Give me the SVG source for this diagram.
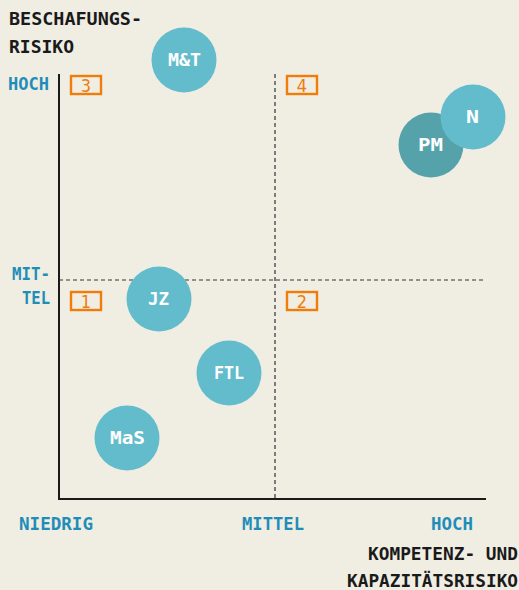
<svg xmlns="http://www.w3.org/2000/svg" width="519" height="590" viewBox="0 0 519 590">
<style>
.lbl{font-family:"DejaVu Sans Mono","Liberation Mono",monospace;font-weight:bold;font-size:18px}
.blk{fill:#1a1a1a}
.blu{fill:#1f8db8}
.box{fill:none;stroke:#f07d0a;stroke-width:2.4}
.num{font-family:"DejaVu Sans Condensed","DejaVu Sans",sans-serif;font-size:18px;fill:#f07d0a;text-anchor:middle}
.c{fill:#62bccc}
.c2{fill:#55a2aa}
.ct{font-family:"DejaVu Sans Mono",monospace;font-weight:bold;font-size:18px;fill:#ffffff}
.ax{stroke:#1a1a1a;stroke-width:2;fill:none}
.dash{stroke:#333;stroke-width:1.2;stroke-dasharray:4 3;fill:none}
</style>
<rect width="519" height="590" fill="#f0ede3"/>
<g id="labels">
<text class="lbl blk" x="9" y="25" textLength="133" lengthAdjust="spacingAndGlyphs">BESCHAFUNGS-</text>
<text class="lbl blk" x="9" y="53" textLength="65" lengthAdjust="spacingAndGlyphs">RISIKO</text>
<text class="lbl blu" x="8" y="90" textLength="41" lengthAdjust="spacingAndGlyphs">HOCH</text>
<text class="lbl blu" x="12" y="280" textLength="38" lengthAdjust="spacingAndGlyphs">MIT-</text>
<text class="lbl blu" x="22" y="304" textLength="28" lengthAdjust="spacingAndGlyphs">TEL</text>
<text class="lbl blu" x="19" y="530" textLength="74" lengthAdjust="spacingAndGlyphs">NIEDRIG</text>
<text class="lbl blu" x="242" y="530" textLength="62" lengthAdjust="spacingAndGlyphs">MITTEL</text>
<text class="lbl blu" x="431" y="530" textLength="42" lengthAdjust="spacingAndGlyphs">HOCH</text>
<text class="lbl blk" x="368" y="560" textLength="150" lengthAdjust="spacingAndGlyphs">KOMPETENZ- UND</text>
<text class="lbl blk" x="347" y="587" textLength="171" lengthAdjust="spacingAndGlyphs">KAPAZITÄTSRISIKO</text>
</g>
<g id="connectors">
<path class="dash" d="M275,74 V499"/>
<path class="dash" d="M59,280 H486"/>
<path class="ax" d="M59,74 V499 H486"/>
</g>
<g id="q3"><rect class="box" x="71" y="76" width="30" height="18"/><text class="num" x="86" y="92">3</text></g>
<g id="q4"><rect class="box" x="287" y="76" width="30" height="18"/><text class="num" x="302" y="92">4</text></g>
<g id="q1"><rect class="box" x="71" y="292" width="30" height="18"/><text class="num" x="86" y="308">1</text></g>
<g id="q2"><rect class="box" x="287" y="292" width="30" height="18"/><text class="num" x="302" y="308">2</text></g>
<g id="MT"><circle class="c" cx="184" cy="60" r="32.5"/><text class="ct" x="168" y="66" textLength="33" lengthAdjust="spacingAndGlyphs">M&amp;T</text></g>
<g id="PM"><circle class="c2" cx="431" cy="145" r="32.5"/><text class="ct" x="418" y="151" textLength="25" lengthAdjust="spacingAndGlyphs">PM</text></g>
<g id="N"><circle class="c" cx="473" cy="117" r="32.5"/><text class="ct" x="466" y="123" textLength="13" lengthAdjust="spacingAndGlyphs">N</text></g>
<g id="JZ"><circle class="c" cx="159" cy="299" r="32.5"/><text class="ct" x="148" y="305" textLength="21" lengthAdjust="spacingAndGlyphs">JZ</text></g>
<g id="FTL"><circle class="c" cx="229" cy="373" r="32.5"/><text class="ct" x="214" y="379" textLength="30" lengthAdjust="spacingAndGlyphs">FTL</text></g>
<g id="MaS"><circle class="c" cx="127" cy="438" r="32.5"/><text class="ct" x="110" y="444" textLength="35" lengthAdjust="spacingAndGlyphs">MaS</text></g>
</svg>
